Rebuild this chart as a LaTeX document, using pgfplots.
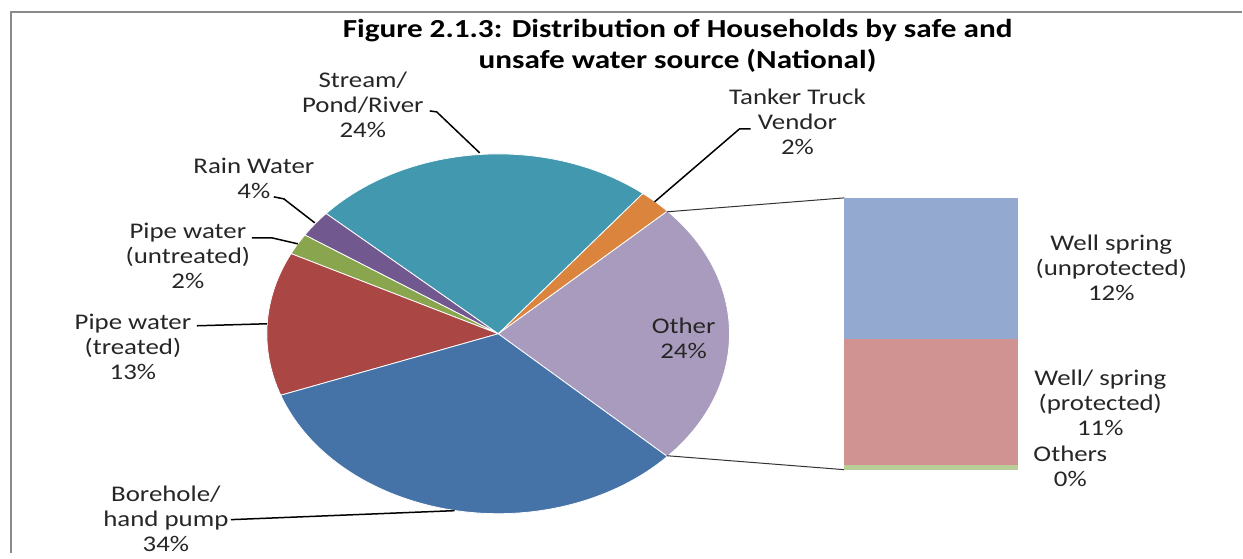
\documentclass[border=0pt]{standalone}
\usepackage{fontspec}
\setmainfont{Carlito}[FakeStretch=1.2]
\usepackage{pgfplots}
\pgfplotsset{compat=1.18}
\definecolor{cBore}{HTML}{4572A7}
\definecolor{cTreat}{HTML}{AA4643}
\definecolor{cUntr}{HTML}{89A54E}
\definecolor{cRain}{HTML}{71588F}
\definecolor{cStream}{HTML}{4198AF}
\definecolor{cTank}{HTML}{DB843D}
\definecolor{cOther}{HTML}{A99BBD}
\definecolor{cUnprot}{HTML}{93A9CF}
\definecolor{cProt}{HTML}{D19392}
\definecolor{cOthers}{HTML}{B9CD96}
\definecolor{cFrame}{HTML}{8A8A8A}
\definecolor{cText}{HTML}{262626}
\newcommand{\pieslice}[3]{\fill[#3, draw=white, line width=0.4pt] (axis cs:498.5,219) -- ++(#1:115.75pt and 90pt) arc[start angle=#1, end angle=#2, x radius=115.75pt, y radius=90pt] -- cycle;}
\begin{document}
\begin{tikzpicture}
% shares of all households, in per cent
\def\pOther{23.9}\def\pTank{2.3}\def\pStream{24.1}\def\pRain{2.4}
\def\pUntr{1.9}\def\pTreat{12.9}\def\pBore{32.5}
\pgfmathsetmacro\aA{-\pOther*1.8}
\pgfmathsetmacro\aB{\aA+\pOther*3.6}
\pgfmathsetmacro\aC{\aB+\pTank*3.6}
\pgfmathsetmacro\aD{\aC+\pStream*3.6}
\pgfmathsetmacro\aE{\aD+\pRain*3.6}
\pgfmathsetmacro\aF{\aE+\pUntr*3.6}
\pgfmathsetmacro\aG{\aF+\pTreat*3.6}
\pgfmathsetmacro\aH{\aG+\pBore*3.6}
\begin{axis}[name=main, at={(0,0)}, anchor=south west, scale only axis,
  x=0.5pt, y=0.5pt, xmin=0, xmax=1243, ymin=0, ymax=553, hide axis, clip=false]
\path (axis cs:0,0) rectangle (axis cs:1243,553);
\draw[cFrame, line width=0.8pt] (axis cs:11,0) -- (axis cs:11,541) -- (axis cs:1243,541);
\pieslice{\aA}{\aB}{cOther}
\pieslice{\aB}{\aC}{cTank}
\pieslice{\aC}{\aD}{cStream}
\pieslice{\aD}{\aE}{cRain}
\pieslice{\aE}{\aF}{cUntr}
\pieslice{\aF}{\aG}{cTreat}
\pieslice{\aG}{\aH}{cBore}
% connector lines to the bar
\draw[black!80, line width=0.5pt] (axis cs:667,341) -- (axis cs:845,355);
\draw[black!80, line width=0.5pt] (axis cs:667,97) -- (axis cs:845,83);
% leader lines
\draw[black, line width=0.75pt] (axis cs:430,442) -- (axis cs:437,441) -- (axis cs:480,400);
\draw[black, line width=0.75pt] (axis cs:751,424) -- (axis cs:740,424) -- (axis cs:655,351);
\draw[black, line width=0.75pt] (axis cs:274,356) -- (axis cs:284,354) -- (axis cs:315,330);
\draw[black, line width=0.75pt] (axis cs:252,315) -- (axis cs:272,315) -- (axis cs:298,309);
\draw[black, line width=0.75pt] (axis cs:197,227) -- (axis cs:267,229);
\draw[black, line width=0.75pt] (axis cs:231,33) -- (axis cs:455,42);
% title
\node[align=center, font=\fontsize{13}{15.5}\selectfont\bfseries, text=black] at (axis cs:678,507)
  {Figure 2.1.3: Distribution of Households by safe and\\unsafe water source (National)};
% labels
\begin{scope}[every node/.style={align=center, text=cText, font=\fontsize{11.2}{12.5}\selectfont}]
\node at (axis cs:363,448) {Stream/\\Pond/River\\24\%};
\node at (axis cs:798,431) {Tanker Truck\\Vendor\\2\%};
\node at (axis cs:254,374.5) {Rain Water\\4\%};
\node at (axis cs:188,297) {Pipe water\\(untreated)\\2\%};
\node at (axis cs:133,206) {Pipe water\\(treated)\\13\%};
\node at (axis cs:166,34) {Borehole/\\hand pump\\34\%};
\node at (axis cs:684,214) {Other\\24\%};
\node at (axis cs:1112,285) {Well spring\\(unprotected)\\12\%};
\node at (axis cs:1101,150) {Well/ spring\\(protected)\\11\%};
\node at (axis cs:1071,86) {Others\\0\%};
\end{scope}
\end{axis}
\begin{axis}[at={(422.5pt,41.5pt)}, anchor=south west, scale only axis,
  width=87pt, height=136pt, xmin=0, xmax=1, ymin=0, ymax=23.9, hide axis,
  ybar stacked, bar width=87pt, clip=false]
\addplot[fill=cOthers, draw=none] coordinates {(0.5,0.4)};
\addplot[fill=cProt, draw=none] coordinates {(0.5,11.1)};
\addplot[fill=cUnprot, draw=none] coordinates {(0.5,12.4)};
\end{axis}
\end{tikzpicture}
\end{document}
